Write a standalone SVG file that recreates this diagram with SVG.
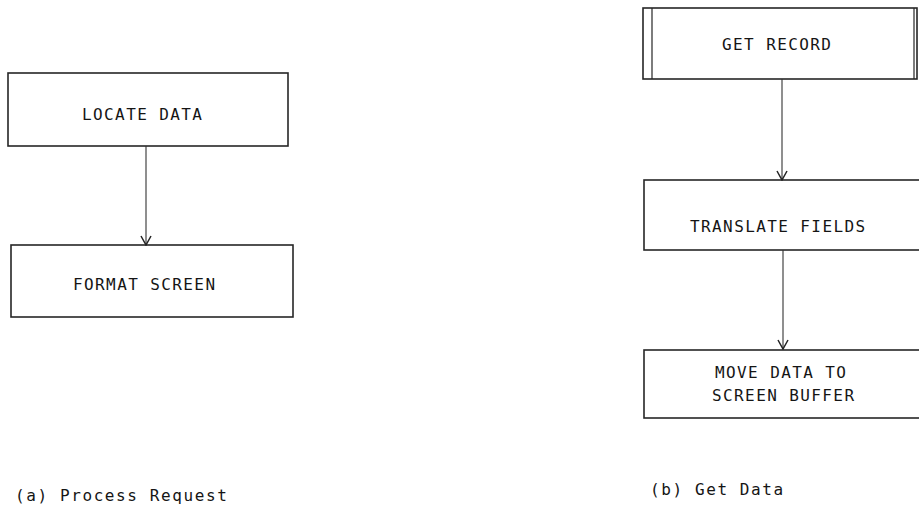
<svg xmlns="http://www.w3.org/2000/svg" width="919" height="513" viewBox="0 0 919 513">
  <style>
    .box { fill: #ffffff; stroke: #262626; stroke-width: 1.6; }
    .inner { fill: none; stroke: #262626; stroke-width: 1.2; }
    .lbl { font-family: "DejaVu Sans Mono", "Liberation Mono", monospace; font-size: 16px; fill: #151515; letter-spacing: 1.4px; }
    .cap { font-family: "DejaVu Sans Mono", "Liberation Mono", monospace; font-size: 16px; fill: #151515; letter-spacing: 1.6px; }
    .edge { fill: none; stroke: #333333; stroke-width: 1.1; }
  </style>
  <defs>
    <marker id="vee" viewBox="0 0 12 12" refX="11" refY="6" markerWidth="12" markerHeight="12" markerUnits="userSpaceOnUse" orient="auto">
      <path d="M2,1 L11,6 L2,11" fill="none" stroke="#222222" stroke-width="1.5"/>
    </marker>
  </defs>
  <rect width="919" height="513" fill="#ffffff"/>

  <!-- (a) Process Request -->
  <g id="locate-data">
    <rect class="box" x="8" y="73" width="280" height="73"/>
    <text class="lbl" x="82" y="120">LOCATE DATA</text>
  </g>
  <g id="format-screen">
    <rect class="box" x="11" y="245" width="282" height="72"/>
    <text class="lbl" x="73" y="290">FORMAT SCREEN</text>
  </g>

  <!-- (b) Get Data -->
  <g id="get-record">
    <rect class="box" x="643" y="8" width="274" height="71"/>
    <line class="inner" x1="652" y1="8" x2="652" y2="79"/>
    <line class="inner" x1="914" y1="8" x2="914" y2="79"/>
    <text class="lbl" x="722" y="50">GET RECORD</text>
  </g>
  <g id="translate-fields">
    <rect class="box" x="644" y="180" width="290" height="70"/>
    <text class="lbl" x="690" y="232">TRANSLATE FIELDS</text>
  </g>
  <g id="move-data">
    <rect class="box" x="644" y="350" width="290" height="68"/>
    <text class="lbl" x="715" y="378">MOVE DATA TO</text>
    <text class="lbl" x="712" y="401">SCREEN BUFFER</text>
  </g>

  <g id="connectors">
    <line class="edge" x1="146" y1="146" x2="146" y2="245" marker-end="url(#vee)"/>
    <line class="edge" x1="782" y1="79" x2="782" y2="180" marker-end="url(#vee)"/>
    <line class="edge" x1="783" y1="250" x2="783" y2="349" marker-end="url(#vee)"/>
  </g>

  <g id="captions">
    <text class="cap" x="15" y="501">(a) Process Request</text>
    <text class="cap" x="650" y="495">(b) Get Data</text>
  </g>
</svg>
